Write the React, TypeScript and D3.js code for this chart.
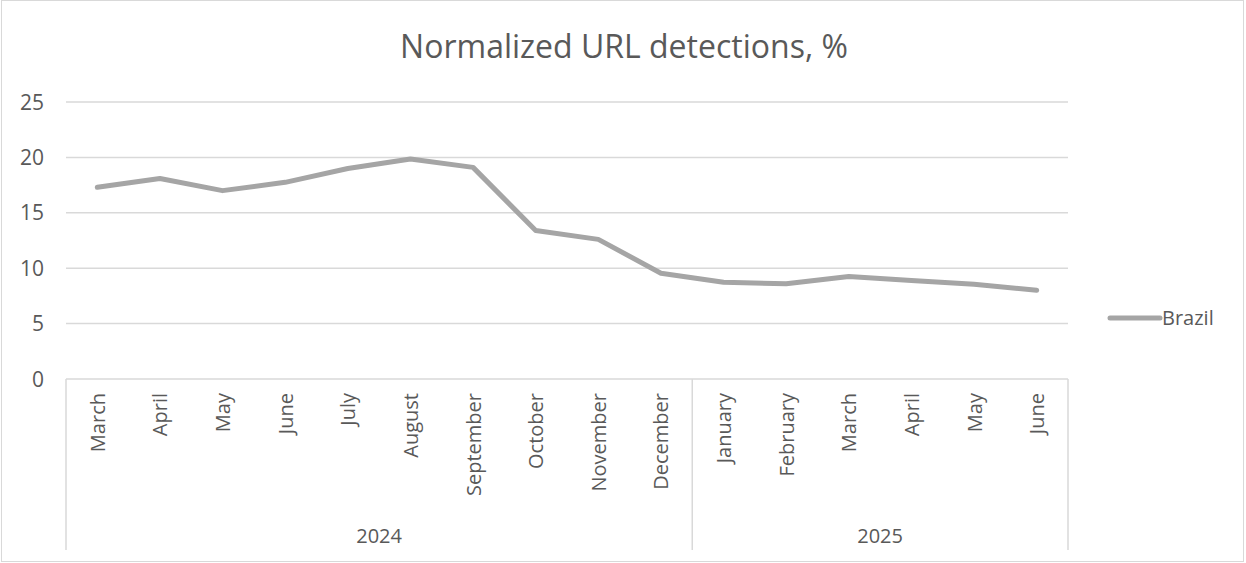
import React from "react";
import * as d3 from "d3";

const months = ["March","April","May","June","July","August","September","October","November","December","January","February","March","April","May","June"];
const years = ["2024", "2025"];
const yearCounts = [10, 6];
const brazil = [17.3, 18.1, 17.0, 17.75, 19.0, 19.85, 19.1, 13.4, 12.6, 9.55, 8.73, 8.6, 9.25, 8.9, 8.55, 8.0];
const yTicks = [0, 5, 10, 15, 20, 25];
const seriesName = "Brazil";
const title = "Normalized URL detections, %";

const W = 1246, H = 563;
const left = 66, right = 1068, top = 102, bottom = 379;
const font = "'Open Sans', 'Noto Sans', sans-serif";
const textColor = "#595959";

export default function App() {
  const idx = months.map((_, i) => i);
  const x = d3.scaleBand<number>().domain(idx).range([left, right]);
  const y = d3.scaleLinear().domain([0, 25]).range([bottom, top]);
  const line = d3.line<number>().x((_, i) => x(i)! + x.bandwidth() / 2).y(d => y(d));

  const seps: number[] = [left];
  let acc = 0;
  yearCounts.forEach(c => { acc += c; seps.push(x(acc - 1)! + x.bandwidth()); });

  return (
    <div style={{ position: "absolute", left: 0, top: 0 }}>
      <svg width={W} height={H} style={{ display: "block", background: "#fff" }}>
        <rect x={1.5} y={0.5} width={1242} height={561} fill="#fff" stroke="#d9d9d9" strokeWidth={1} />
        <text x={624} y={58} textAnchor="middle" fontFamily={font} fontSize={32} fill={textColor}>{title}</text>
        {yTicks.map(t => (
          <g key={t}>
            {t > 0 && <line x1={left} x2={right} y1={y(t)} y2={y(t)} stroke="#d9d9d9" strokeWidth={1.5} />}
            <text x={44} y={y(t) + 7.5} textAnchor="end" fontFamily={font} fontSize={21} fill={textColor}>{t}</text>
          </g>
        ))}
        <line x1={left} x2={right} y1={bottom} y2={bottom} stroke="#d9d9d9" strokeWidth={1.5} />
        {seps.map((s, i) => (
          <line key={i} x1={s} x2={s} y1={bottom} y2={550} stroke="#d9d9d9" strokeWidth={1.5} />
        ))}
        {months.map((m, i) => {
          const cx = x(i)! + x.bandwidth() / 2;
          return (
            <text key={i} transform={`translate(${cx + 7.5},393) rotate(-90)`} textAnchor="end" fontFamily={font} fontSize={20} fill={textColor}>{m}</text>
          );
        })}
        {years.map((yr, i) => (
          <text key={yr} x={(seps[i] + seps[i + 1]) / 2} y={543} textAnchor="middle" fontFamily={font} fontSize={20} fill={textColor}>{yr}</text>
        ))}
        <path d={line(brazil)!} fill="none" stroke="#a5a5a5" strokeWidth={5} strokeLinejoin="round" strokeLinecap="round" />
        <line x1={1110} x2={1160} y1={318} y2={318} stroke="#a5a5a5" strokeWidth={5} strokeLinecap="round" />
        <text x={1162} y={325} fontFamily={font} fontSize={20} fill={textColor}>{seriesName}</text>
      </svg>
    </div>
  );
}
